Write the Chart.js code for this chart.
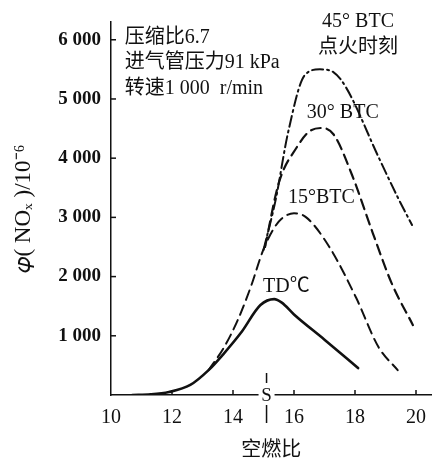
<!DOCTYPE html>
<html>
<head>
<meta charset="utf-8">
<script src="https://cdn.jsdelivr.net/npm/chart.js@4"></script>
<style>
  html, body { margin: 0; padding: 0; background: #fff; }
  #wrap { width: 437px; height: 463px; }
</style>
</head>
<body>
<div id="wrap"><canvas id="noxChart"></canvas></div>
<script>
// air-fuel ratio (x) and NOx (y, 10^-6)
const tdX = [10.7, 11.3, 11.9, 12.6, 13.2, 13.7, 14.26, 14.9, 15.35, 15.6, 16.0, 17.0, 18.1];
const tdY = [0, 10, 50, 170, 420, 700, 1050, 1520, 1620, 1560, 1360, 935, 455];

const btc15X = [13.2, 13.7, 14.16, 14.6, 14.97, 15.3, 15.6, 16.0, 16.4, 17.16, 18.03, 18.77, 19.4];
const btc15Y = [420, 800, 1270, 1850, 2420, 2780, 2980, 3070, 3000, 2500, 1650, 810, 420];

const btc30X = [15.05, 15.5, 16.1, 16.5, 16.9, 17.3, 17.9, 18.58, 19.2, 19.9];
const btc30Y = [2500, 3580, 4190, 4450, 4510, 4400, 3720, 2740, 1890, 1180];

const btc45X = [15.0, 15.4, 15.8, 16.35, 16.85, 17.3, 17.7, 18.77, 19.4, 19.87];
const btc45Y = [2450, 3300, 4420, 5400, 5500, 5450, 5200, 4020, 3340, 2870];

const xTicks = [10, 12, 14, 16, 18, 20];
const yTicks = [1000, 2000, 3000, 4000, 5000, 6000];
const stoichX = 15.1;

const serif = '"Liberation Serif", "Noto Sans CJK SC", serif';

function pts(xs, ys) {
    return xs.map((x, i) => ({ x: x, y: ys[i] }));
}

// text labels, placed in data units
const notes = [
    { text: '压缩比6.7', x: 10.45, y: 6030, align: 'left' },
    { text: '进气管压力91 kPa', x: 10.45, y: 5610, align: 'left' },
    { text: '转速1 000  r/min', x: 10.45, y: 5170, align: 'left' },
    { text: '45° BTC', x: 18.1, y: 6300, align: 'center' },
    { text: '点火时刻', x: 18.1, y: 5860, align: 'center' },
    { text: '30° BTC', x: 17.6, y: 4770, align: 'center' },
    { text: '15°BTC', x: 16.9, y: 3330, align: 'center' },
    { text: 'TD℃', x: 15.75, y: 1830, align: 'center' }
];

const annotate = {
    id: 'annotate',
    afterDraw(chart) {
        const c = chart.ctx, xs = chart.scales.x, ys = chart.scales.y;
        c.save();
        c.fillStyle = '#111';
        c.strokeStyle = '#111';
        c.lineWidth = 1.5;
        // inward tick marks
        yTicks.forEach(v => {
            const py = ys.getPixelForValue(v);
            c.beginPath(); c.moveTo(xs.left, py); c.lineTo(xs.left + 5, py); c.stroke();
        });
        xTicks.slice(1).forEach(v => {
            const px = xs.getPixelForValue(v);
            c.beginPath(); c.moveTo(px, ys.bottom); c.lineTo(px, ys.bottom - 5); c.stroke();
        });
        // S marker on the axis
        const sx = xs.getPixelForValue(stoichX), sy = ys.bottom;
        c.fillStyle = '#fff';
        c.fillRect(sx - 8, sy - 8, 16, 16);
        c.fillStyle = '#111';
        c.font = '19px ' + serif;
        c.textAlign = 'center';
        c.textBaseline = 'middle';
        c.fillText('S', sx, sy + 1);
        c.beginPath();
        c.moveTo(sx, sy - 22); c.lineTo(sx, sy - 12);
        c.moveTo(sx, sy + 10); c.lineTo(sx, sy + 28);
        c.stroke();
        // notes
        c.font = '20px ' + serif;
        notes.forEach(n => {
            c.textAlign = n.align;
            c.fillText(n.text, xs.getPixelForValue(n.x), ys.getPixelForValue(n.y));
        });
        c.restore();
    }
};

new Chart(document.getElementById('noxChart'), {
    type: 'line',
    data: {
        datasets: [
            { label: 'TD', data: pts(tdX, tdY), borderColor: '#111', borderWidth: 2.6 },
            { label: '15° BTC', data: pts(btc15X, btc15Y), borderColor: '#111', borderWidth: 2, borderDash: [10, 6] },
            { label: '30° BTC', data: pts(btc30X, btc30Y), borderColor: '#111', borderWidth: 2.2, borderDash: [10, 6] },
            { label: '45° BTC', data: pts(btc45X, btc45Y), borderColor: '#111', borderWidth: 2, borderDash: [11, 4, 2, 4] }
        ]
    },
    options: {
        responsive: true,
        maintainAspectRatio: false,
        animation: false,
        layout: { padding: { top: 22, right: 0, left: 0, bottom: 0 } },
        elements: {
            point: { radius: 0 },
            line: { cubicInterpolationMode: 'monotone', fill: false, borderCapStyle: 'round' }
        },
        plugins: { legend: { display: false }, tooltip: { enabled: false } },
        scales: {
            x: {
                type: 'linear',
                min: 10,
                max: 20.5,
                afterFit(scale) { scale.height = 68; },
                afterBuildTicks(scale) { scale.ticks = xTicks.map(v => ({ value: v })); },
                border: { display: true, color: '#111', width: 1.5 },
                grid: { display: false, drawTicks: false },
                ticks: {
                    padding: 11,
                    color: '#111',
                    font: { family: serif, size: 20 }
                },
                title: {
                    display: true,
                    text: '空燃比',
                    color: '#111',
                    font: { family: serif, size: 20 },
                    padding: { top: 0, bottom: 0 }
                }
            },
            y: {
                type: 'linear',
                min: 0,
                max: 6300,
                afterFit(scale) { scale.width = 111; },
                afterBuildTicks(scale) { scale.ticks = yTicks.map(v => ({ value: v })); },
                border: { display: true, color: '#111', width: 1.5 },
                grid: { display: false, drawTicks: false },
                ticks: {
                    padding: 10,
                    color: '#111',
                    font: { family: serif, size: 19, weight: 'bold' },
                    callback: v => String(v).replace(/\B(?=(\d{3})+$)/, ' ')
                },
                title: {
                    display: true,
                    text: '𝜑( NOₓ )/10⁻⁶',
                    color: '#111',
                    font: { family: serif, size: 23 },
                    padding: { top: 10, bottom: 0 }
                }
            }
        }
    },
    plugins: [annotate]
});
</script>
</body>
</html>
